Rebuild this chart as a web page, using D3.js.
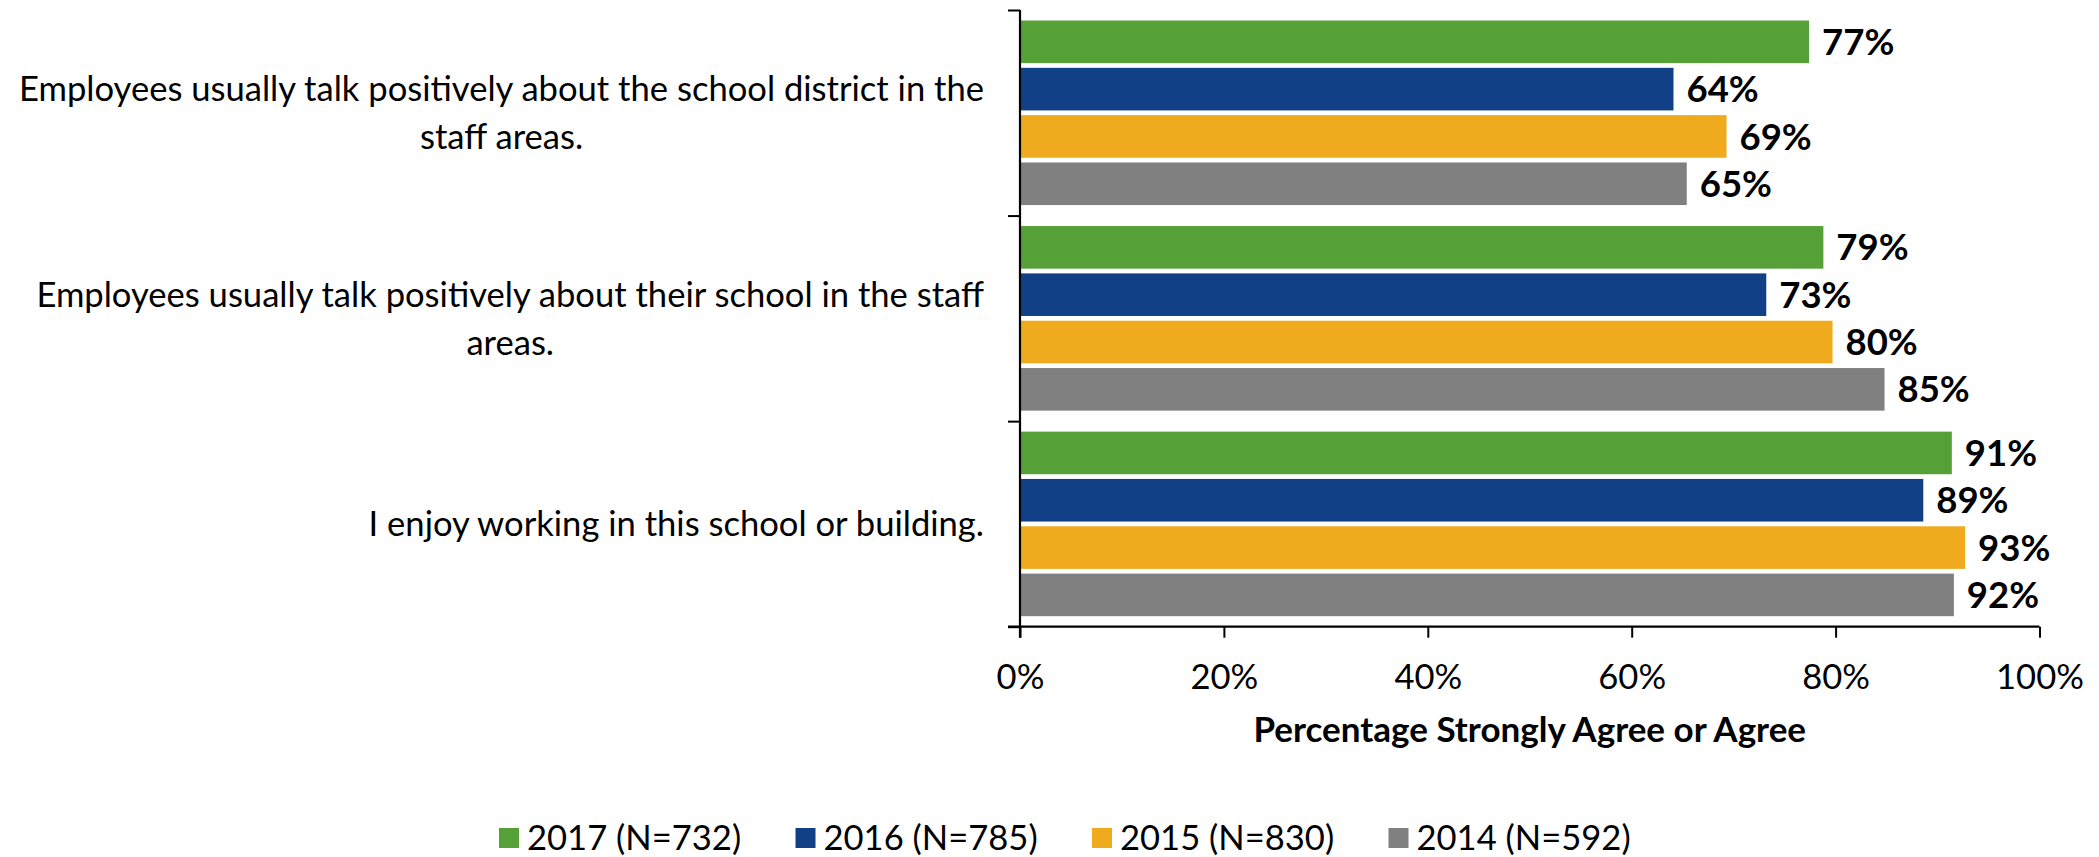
<!DOCTYPE html>
<html>
<head>
<meta charset="utf-8">
<script src="https://cdn.jsdelivr.net/npm/d3@7"></script>
<style>
  html, body { margin: 0; padding: 0; background: #fff; }
  svg { display: block; }
  text { font-family: Lato, "Open Sans", sans-serif; fill: #000; }
</style>
</head>
<body>
<svg id="chart" width="2099" height="857"></svg>
<script>
// ---- data ----
const categories = [
  "Employees usually talk positively about the school district in the staff areas.",
  "Employees usually talk positively about their school in the staff areas.",
  "I enjoy working in this school or building."
];
const categoryLines = [
  ["Employees usually talk positively about the school district in the", "staff areas."],
  ["Employees usually talk positively about their school in the staff", "areas."],
  ["I enjoy working in this school or building."]
];
const seriesNames = ["2017 (N=732)", "2016 (N=785)", "2015 (N=830)", "2014 (N=592)"];
const seriesColors = ["#55A138", "#124087", "#F0AA1D", "#808080"];
const values2017 = [77.4, 78.8, 91.4];
const values2016 = [64.1, 73.2, 88.6];
const values2015 = [69.3, 79.7, 92.7];
const values2014 = [65.4, 84.8, 91.6];
const xTicks = [0, 20, 40, 60, 80, 100];
const xAxisTitle = "Percentage Strongly Agree or Agree";

const seriesValues = [values2017, values2016, values2015, values2014];

// ---- layout ----
const svg = d3.select("#chart");
const W = 2099, H = 857;
svg.append("rect").attr("width", W).attr("height", H).attr("fill", "#fff");

const plot = { left: 1020, right: 2039.5, top: 10, bottom: 626.7 };
const fontMain = 34.6;
const fontValue = 36.5;
const fontTitle = 35;

const x = d3.scaleLinear().domain([0, 100]).range([plot.left, plot.right]);
const y0 = d3.scaleBand().domain(categories).range([plot.top, plot.bottom]).paddingInner(0).paddingOuter(0);
const y1 = d3.scaleBand().domain(seriesNames).range([10.5, y0.bandwidth() - 10.5]).paddingInner(0.1).paddingOuter(0);
const color = d3.scaleOrdinal().domain(seriesNames).range(seriesColors);

// bars
const groups = svg.append("g").selectAll("g")
  .data(categories)
  .join("g")
  .attr("transform", d => `translate(0,${y0(d)})`);

groups.each(function(cat, ci) {
  const g = d3.select(this);
  const rows = seriesNames.map((s, si) => ({ s, v: seriesValues[si][ci] }));
  g.selectAll("rect").data(rows).join("rect")
    .attr("x", x(0))
    .attr("y", d => y1(d.s))
    .attr("width", d => x(d.v) - x(0))
    .attr("height", y1.bandwidth())
    .attr("fill", d => color(d.s));
  g.selectAll("text.val").data(rows).join("text")
    .attr("class", "val")
    .attr("x", d => x(d.v) + 13)
    .attr("y", d => y1(d.s) + y1.bandwidth() / 2)
    .attr("dy", "0.36em")
    .attr("font-size", fontValue)
    .attr("font-weight", "bold")
    .text(d => Math.round(d.v) + "%");
});

// x axis
const xAxis = d3.axisBottom(x).tickValues(xTicks).tickFormat(d => d + "%").tickSize(11).tickPadding(27);
const gx = svg.append("g").attr("transform", `translate(0,${plot.bottom})`).call(xAxis);
gx.select(".domain").attr("stroke", "#000").attr("stroke-width", 2.2).attr("d", `M${plot.left - 12},0H${plot.right}`);
gx.selectAll(".tick line").attr("stroke", "#000").attr("stroke-width", 2);
gx.selectAll(".tick text").attr("font-size", fontMain).attr("font-family", "Lato, 'Open Sans', sans-serif").attr("fill", "#000");

// y axis (ticks at category boundaries)
const yEdge = d3.scaleLinear().domain([0, categories.length]).range([plot.top, plot.bottom]);
const yAxis = d3.axisLeft(yEdge).tickValues(d3.range(0, categories.length + 1)).tickFormat("").tickSize(12);
const gy = svg.append("g").attr("transform", `translate(${plot.left},0)`).call(yAxis);
gy.select(".domain").attr("stroke", "#000").attr("stroke-width", 2.2).attr("d", `M0,${plot.top}V${plot.bottom + 11}`);
gy.selectAll(".tick line").attr("stroke", "#000").attr("stroke-width", 2);

// category labels (wrapped, lines centered, block right-aligned)
const labelRight = 984;
const lineH = 48;
categories.forEach((cat, ci) => {
  const lines = categoryLines[ci];
  const g = svg.append("g");
  const cy = y0(cat) + y0.bandwidth() / 2;
  const texts = g.selectAll("text").data(lines).join("text")
    .attr("font-size", fontMain)
    .attr("text-anchor", "middle")
    .attr("y", (d, i) => cy + (i - (lines.length - 1) / 2) * lineH)
    .attr("dy", "0.36em")
    .text(d => d);
  let maxW = 0;
  texts.each(function() { maxW = Math.max(maxW, this.getComputedTextLength()); });
  texts.attr("x", labelRight - maxW / 2);
});

// x axis title
svg.append("text")
  .attr("x", (plot.left + plot.right) / 2)
  .attr("y", 742)
  .attr("text-anchor", "middle")
  .attr("font-size", fontTitle)
  .attr("font-weight", "bold")
  .text(xAxisTitle);

// legend
const legendX0 = 499, legendStep = 296.5, legendY = 828;
const lg = svg.append("g").selectAll("g").data(seriesNames).join("g")
  .attr("transform", (d, i) => `translate(${legendX0 + i * legendStep},${legendY})`);
lg.append("rect").attr("width", 20).attr("height", 20).attr("fill", d => color(d));
lg.append("text").attr("x", 28).attr("y", 10).attr("dy", "0.36em")
  .attr("font-size", fontMain).text(d => d);
</script>
</body>
</html>
